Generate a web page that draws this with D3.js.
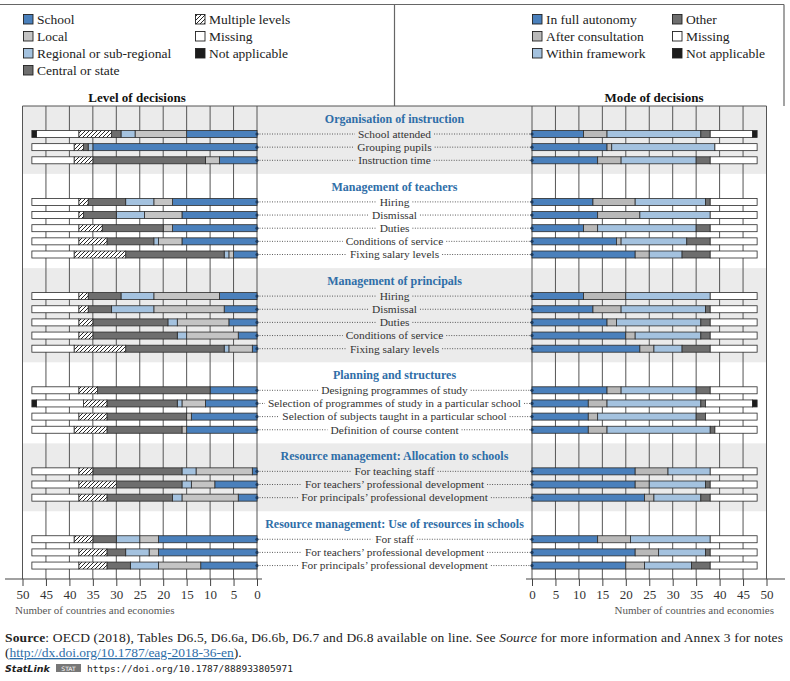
<!DOCTYPE html>
<html>
<head>
<meta charset="utf-8">
<script src="https://cdn.jsdelivr.net/npm/d3@7"></script>
<style>
    body { margin: 0; background: #fff; }
</style>
</head>
<body>
<svg id="chart" width="790" height="681"></svg>
<script>
// ---- data ----
var sectionTitles = ["Organisation of instruction", "Management of teachers", "Management of principals",
    "Planning and structures", "Resource management: Allocation to schools",
    "Resource management: Use of resources in schools"];
var sectionSizes = [3, 5, 5, 4, 3, 3];
var rowLabels = ["School attended", "Grouping pupils", "Instruction time",
    "Hiring", "Dismissal", "Duties", "Conditions of service", "Fixing salary levels",
    "Hiring", "Dismissal", "Duties", "Conditions of service", "Fixing salary levels",
    "Designing programmes of study", "Selection of programmes of study in a particular school",
    "Selection of subjects taught in a particular school", "Definition of course content",
    "For teaching staff", "For teachers\u2019 professional development", "For principals\u2019 professional development",
    "For staff", "For teachers\u2019 professional development", "For principals\u2019 professional development"];

// Level of decisions (left panel)
var school        = [15, 35, 8, 18, 16, 18, 16, 5, 8, 7, 6, 4, 1, 10, 11, 14, 15, 1, 9, 4, 21, 21, 12];
var local         = [11, 0, 3, 4, 8, 2, 5, 1, 14, 15, 11, 11, 5, 0, 5, 1, 1, 12, 5, 12, 4, 2, 9];
var regional      = [3, 1, 0, 6, 6, 0, 1, 1, 7, 9, 2, 2, 1, 0, 1, 0, 0, 3, 2, 2, 5, 5, 6];
var central       = [2, 1, 24, 8, 7, 13, 10, 21, 7, 5, 16, 18, 21, 24, 15, 17, 16, 19, 14, 14, 5, 4, 5];
var multiple      = [7, 2, 4, 2, 1, 5, 6, 11, 2, 2, 3, 3, 11, 4, 5, 6, 7, 3, 8, 6, 4, 6, 6];
var levelMissing  = [9, 9, 9, 10, 10, 10, 10, 9, 10, 10, 10, 10, 9, 10, 10, 10, 9, 10, 10, 10, 9, 10, 10];
var levelNA       = [1, 0, 0, 0, 0, 0, 0, 0, 0, 0, 0, 0, 0, 0, 1, 0, 0, 0, 0, 0, 0, 0, 0];

// Mode of decisions (right panel)
var fullAutonomy  = [11, 16, 14, 13, 14, 11, 18, 22, 11, 13, 16, 20, 23, 16, 12, 12, 12, 22, 22, 24, 14, 22, 20];
var consultation  = [5, 1, 5, 9, 9, 3, 1, 3, 9, 6, 2, 2, 3, 3, 4, 2, 4, 7, 3, 2, 7, 5, 4];
var framework     = [20, 22, 16, 15, 15, 21, 14, 7, 18, 18, 18, 14, 6, 16, 20, 21, 22, 9, 12, 10, 17, 10, 10];
var other         = [2, 0, 3, 1, 0, 3, 5, 6, 0, 1, 2, 2, 6, 3, 1, 2, 1, 0, 1, 2, 0, 1, 4];
var modeMissing   = [9, 9, 10, 10, 10, 10, 10, 10, 10, 10, 10, 10, 10, 10, 10, 11, 9, 10, 10, 10, 10, 10, 10];
var modeNA        = [1, 0, 0, 0, 0, 0, 0, 0, 0, 0, 0, 0, 0, 0, 1, 0, 0, 0, 0, 0, 0, 0, 0];

var tickValues = [0, 5, 10, 15, 20, 25, 30, 35, 40, 45, 50];

var levelKeys = ["school", "local", "regional", "central", "multiple", "missing", "na"];
var levelNames = ["School", "Local", "Regional or sub-regional", "Central or state", "Multiple levels", "Missing", "Not applicable"];
var modeKeys = ["full", "consult", "framework", "other", "missing", "na"];
var modeNames = ["In full autonomy", "After consultation", "Within framework", "Other", "Missing", "Not applicable"];

var fills = {
    school: "#4a80bc", local: "#c4c4c4", regional: "#a4c2df", central: "#6e6e6e",
    multiple: "url(#hatch)", missing: "#ffffff", na: "#1c1c1c",
    full: "#4a80bc", consult: "#b9b9b9", framework: "#a4c2df", other: "#6e6e6e"
};
var SERIF = "'Liberation Serif', 'Times New Roman', serif";

var levelTable = rowLabels.map(function (l, i) {
    return {label: l, school: school[i], local: local[i], regional: regional[i], central: central[i],
        multiple: multiple[i], missing: levelMissing[i], na: levelNA[i]};
});
var modeTable = rowLabels.map(function (l, i) {
    return {label: l, full: fullAutonomy[i], consult: consultation[i], framework: framework[i],
        other: other[i], missing: modeMissing[i], na: modeNA[i]};
});

// ---- layout ----
var svg = d3.select("#chart").style("font-family", SERIF);
var top0 = 106, axisY = 579, rowStep = 13.15, barH = 7;
var xLeft = d3.scaleLinear().domain([0, 50]).range([257, 22.5]);
var xRight = d3.scaleLinear().domain([0, 50]).range([532, 766.5]);
var midX = (xLeft(0) + xRight(0)) / 2;

var rowPos = [], titlePos = [], bands = [];
var cur = top0;
sectionSizes.forEach(function (n) {
    var h = 28 + (n - 1) * rowStep + 13.6;
    bands.push({y: cur, h: h});
    titlePos.push(cur + 17);
    for (var k = 0; k < n; k++) rowPos.push(cur + 28 + k * rowStep);
    cur += h;
});

// hatch pattern for "Multiple levels"
var defs = svg.append("defs");
var pat = defs.append("pattern").attr("id", "hatch").attr("patternUnits", "userSpaceOnUse")
    .attr("width", 4).attr("height", 4);
pat.append("rect").attr("width", 4).attr("height", 4).attr("fill", "#fff");
pat.append("path").attr("d", "M-1,1 l2,-2 M0,4 l4,-4 M3,5 l2,-2")
    .attr("stroke", "#111").attr("stroke-width", 0.9);

// frame lines at the top
svg.append("line").attr("x1", 0).attr("x2", 784).attr("y1", 4.5).attr("y2", 4.5)
    .attr("stroke", "#666").attr("stroke-width", 1.2);
svg.append("line").attr("x1", 394.5).attr("x2", 394.5).attr("y1", 4.5).attr("y2", top0)
    .attr("stroke", "#666").attr("stroke-width", 1.2);
svg.append("line").attr("x1", 784).attr("x2", 784).attr("y1", 4.5).attr("y2", top0)
    .attr("stroke", "#666").attr("stroke-width", 1.2);

// legends
function draw_legend(items, keys, x0, colX, perCol) {
    var g = svg.append("g");
    items.forEach(function (name, i) {
        var col = i < perCol ? 0 : 1, row = i < perCol ? i : i - perCol;
        var gx = x0 + col * colX, gy = 14.5 + row * 17;
        g.append("rect").attr("x", gx).attr("y", gy).attr("width", 9.5).attr("height", 9.5)
            .attr("fill", fills[keys[i]]).attr("stroke", "#222").attr("stroke-width", 0.9);
        g.append("text").attr("x", gx + 13.5).attr("y", gy + 9.5)
            .style("font-family", SERIF).style("font-size", "13.5px")
            .attr("fill", "#222").text(name);
    });
}
draw_legend(levelNames, levelKeys, 23.5, 172, 4);
draw_legend(modeNames, modeKeys, 532.5, 140, 3);

svg.append("text").attr("x", 137).attr("y", 102).attr("text-anchor", "middle").style("font-family", SERIF)
    .style("font-size", "13px").style("font-weight", "bold").attr("fill", "#111").text("Level of decisions");
svg.append("text").attr("x", 654).attr("y", 102).attr("text-anchor", "middle").style("font-family", SERIF)
    .style("font-size", "13px").style("font-weight", "bold").attr("fill", "#111").text("Mode of decisions");

// shaded bands for every other section
svg.append("g").selectAll("rect").data(bands.filter(function (d, i) { return i % 2 === 0; }))
    .join("rect").attr("x", xLeft(50)).attr("width", xRight(50) - xLeft(50))
    .attr("y", function (d) { return d.y; }).attr("height", function (d) { return d.h; })
    .attr("fill", "#ebebeb");

// gridlines
var grid = svg.append("g").attr("stroke", "#555").attr("stroke-width", 1);
[xLeft, xRight].forEach(function (sc) {
    grid.selectAll(null).data(tickValues).join("line")
        .attr("x1", function (d) { return sc(d); }).attr("x2", function (d) { return sc(d); })
        .attr("y1", top0).attr("y2", axisY);
});
grid.append("line").attr("x1", xLeft(50)).attr("x2", xRight(50)).attr("y1", top0).attr("y2", top0);

// section titles
svg.append("g").selectAll("text").data(sectionTitles).join("text")
    .attr("x", midX).attr("y", function (d, i) { return titlePos[i]; })
    .attr("text-anchor", "middle").style("font-family", SERIF).style("font-size", "12px")
    .style("font-weight", "bold").attr("fill", "#2f6ea8").text(function (d) { return d; });

// row labels with dotted leaders
var lab = svg.append("g");
rowLabels.forEach(function (l, i) {
    var t = lab.append("text").attr("x", midX).attr("y", rowPos[i] + 3.8).attr("text-anchor", "middle")
        .style("font-family", SERIF).style("font-size", "11.4px").attr("fill", "#333").text(l);
    var w = t.node().getComputedTextLength();
    lab.append("line").attr("x1", xLeft(0)).attr("x2", midX - w / 2 - 3)
        .attr("y1", rowPos[i]).attr("y2", rowPos[i])
        .attr("stroke", "#333").attr("stroke-width", 0.8).attr("stroke-dasharray", "1,1.5");
    lab.append("line").attr("x1", midX + w / 2 + 3).attr("x2", xRight(0))
        .attr("y1", rowPos[i]).attr("y2", rowPos[i])
        .attr("stroke", "#333").attr("stroke-width", 0.8).attr("stroke-dasharray", "1,1.5");
});

// stacked bars
function draw_bars(table, keys, sc, side) {
    var series = d3.stack().keys(keys)(table);
    var g = svg.append("g");
    series.forEach(function (s) {
        g.selectAll(null).data(s.filter(function (d) { return d[1] > d[0]; })).join("rect")
            .attr("x", function (d) { return side === "left" ? sc(d[1]) : sc(d[0]); })
            .attr("width", function (d) { return Math.abs(sc(d[1]) - sc(d[0])); })
            .attr("y", function (d) { return rowPos[table.indexOf(d.data)] - barH / 2; })
            .attr("height", barH)
            .attr("fill", fills[s.key]).attr("stroke", "#2b2b2b").attr("stroke-width", 0.8);
    });
    // small end markers where the leader joins the bar
    g.selectAll("circle").data(table).join("circle")
        .attr("cx", sc(0)).attr("cy", function (d, i) { return rowPos[i]; })
        .attr("r", 1.6).attr("fill", "#1f3a5a");
}
draw_bars(levelTable, levelKeys, xLeft, "left");
draw_bars(modeTable, modeKeys, xRight, "right");

// axes
function draw_axis(sc, x1, x2, noteX, anchor) {
    var ax = svg.append("g").attr("transform", "translate(0," + axisY + ")")
        .call(d3.axisBottom(sc).tickValues(tickValues).tickSize(7).tickPadding(4));
    ax.select(".domain").remove();
    ax.selectAll(".tick line").attr("stroke", "#444");
    ax.selectAll(".tick text").style("font-family", SERIF)
        .style("font-size", "13px").attr("fill", "#333");
    svg.append("line").attr("x1", x1).attr("x2", x2).attr("y1", axisY).attr("y2", axisY)
        .attr("stroke", "#444").attr("stroke-width", 1.2);
    svg.append("text").attr("x", noteX).attr("y", 614).attr("text-anchor", anchor).style("font-family", SERIF)
        .style("font-size", "11px").attr("fill", "#555").text("Number of countries and economies");
}
draw_axis(xLeft, 5, 262, 15, "start");
draw_axis(xRight, 526, 785, 774, "end");

// footer
var src = svg.append("text").attr("x", 5).attr("y", 642).attr("textLength", 778).attr("lengthAdjust", "spacing")
    .style("font-family", SERIF).style("font-size", "13.5px").attr("fill", "#222");
src.append("tspan").style("font-weight", "bold").text("Source");
src.append("tspan").text(": OECD (2018), Tables D6.5, D6.6a, D6.6b, D6.7 and D6.8 available on line. See ");
src.append("tspan").style("font-style", "italic").text("Source");
src.append("tspan").text(" for more information and Annex 3 for notes");
var src2 = svg.append("text").attr("x", 5).attr("y", 657)
    .style("font-family", SERIF).style("font-size", "13.5px").attr("fill", "#222");
src2.append("tspan").text("(");
src2.append("tspan").attr("fill", "#2f6ea8").style("text-decoration", "underline")
    .text("http://dx.doi.org/10.1787/eag-2018-36-en");
src2.append("tspan").text(").");

svg.append("text").attr("x", 5).attr("y", 672).style("font-family", "'DejaVu Sans', sans-serif")
    .style("font-size", "9.5px").style("font-style", "italic").style("font-weight", "bold")
    .attr("fill", "#222").text("StatLink");
svg.append("rect").attr("x", 56).attr("y", 664).attr("width", 25).attr("height", 8).attr("fill", "#777");
svg.append("text").attr("x", 68.5).attr("y", 671).attr("text-anchor", "middle")
    .style("font-family", "'DejaVu Sans', sans-serif").style("font-size", "6px")
    .attr("fill", "#fff").text("STAT");
svg.append("text").attr("x", 87).attr("y", 672).style("font-family", "'DejaVu Sans Mono', monospace")
    .style("font-size", "9.5px").attr("fill", "#222").text("https://doi.org/10.1787/888933805971");
</script>
</body>
</html>
